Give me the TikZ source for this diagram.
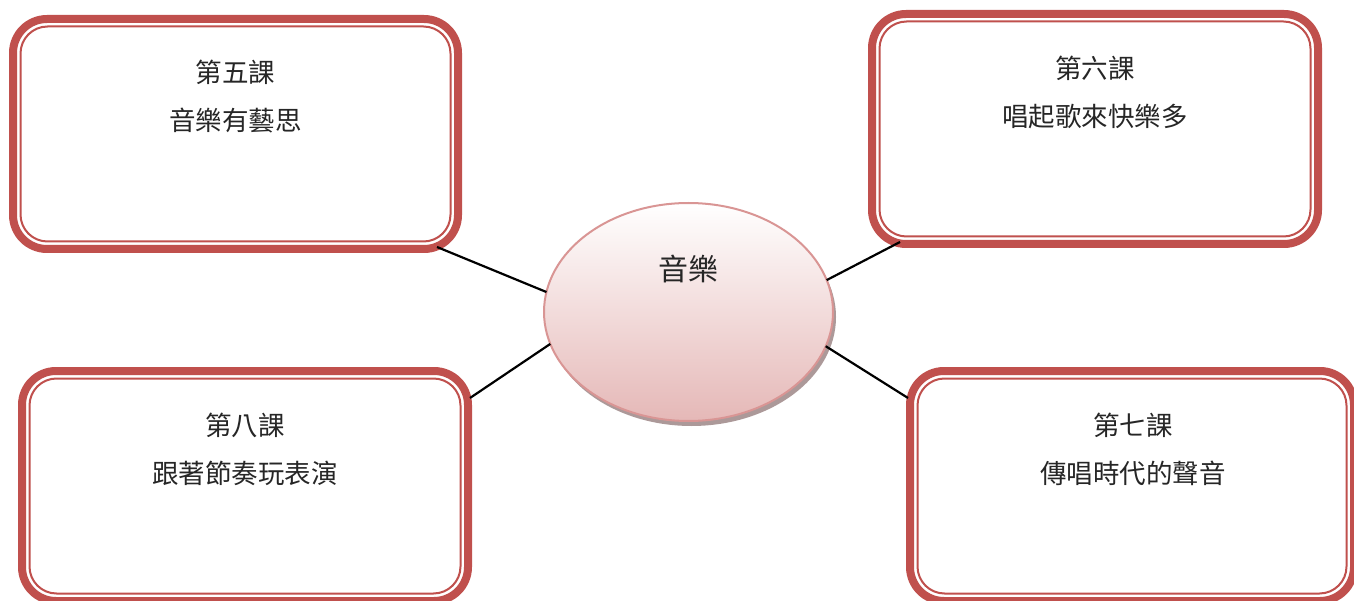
\documentclass[tikz,border=0pt]{standalone}
\usepackage{fontspec}
\newfontfamily\cjk{Noto Sans CJK TC}
\usetikzlibrary{shapes.geometric,shadows}
\definecolor{boxred}{HTML}{C0504D}
\definecolor{ellborder}{HTML}{D99594}
\definecolor{ellbottom}{HTML}{E5B8B7}
\begin{document}
\begin{tikzpicture}[x=1pt,y=-1pt,
  lessonbox/.style={rectangle, rounded corners=34pt, draw=boxred, line width=8pt,
    minimum height=230pt, inner sep=0pt, outer sep=0pt, fill=white},
  innerline/.style={draw=boxred, line width=2pt, rounded corners=27pt},
  link/.style={line width=2.2pt, draw=black},
  ttl/.style={font=\cjk\fontsize{26.5}{30}\selectfont, text=black!85, inner sep=0pt},
  bigttl/.style={font=\cjk\fontsize{30}{34}\selectfont, text=black!85, inner sep=0pt},
  hub/.style={ellipse, draw=ellborder, line width=2pt, minimum width=289pt, minimum height=218pt,
    top color=white, bottom color=ellbottom, outer sep=0pt,
    drop shadow={shadow xshift=3pt, shadow yshift=-5pt, fill=black!40!ellbottom, opacity=0.7}}
]
\useasboundingbox (0,0) rectangle (1354,601);

% boxes
\node[lessonbox, minimum width=445pt] (b1) at (235.5,134) {};
\node[lessonbox, minimum width=446pt] (b2) at (1095,129) {};
\node[lessonbox, minimum width=446pt] (b3) at (245,486) {};
\node[lessonbox, minimum width=444pt] (b4) at (1132,486) {};

\foreach \b in {b1,b2,b3,b4}{
  \draw[innerline] ([shift={(7.5pt,-7.5pt)}]\b.north west) rectangle ([shift={(-7.5pt,7.5pt)}]\b.south east);
}

% hub
\node[hub] (e) at (688.5,312) {};
\node[bigttl] (et) at (688,269) {音樂};

% texts
\node[ttl] (t1a) at ([yshift=-53pt]b1.north) {第五課};
\node[ttl] (t1b) at ([yshift=-102pt]b1.north) {音樂有藝思};
\node[ttl] (t2a) at ([yshift=-54pt]b2.north) {第六課};
\node[ttl] (t2b) at ([yshift=-102pt]b2.north) {唱起歌來快樂多};
\node[ttl] (t3a) at ([yshift=-54pt]b3.north) {第八課};
\node[ttl] (t3b) at ([yshift=-102pt]b3.north) {跟著節奏玩表演};
\node[ttl] (t4a) at ([shift={(1pt,-54pt)}]b4.north) {第七課};
\node[ttl] (t4b) at ([shift={(1pt,-102pt)}]b4.north) {傳唱時代的聲音};

% connectors
\draw[link] ([shift={(-21pt,2pt)}]b1.south east) -- (e.172);
\draw[link] ([shift={(28pt,2pt)}]b2.south west) -- (e.13);
\draw[link] ([shift={(2pt,-27pt)}]b3.north east) -- (e.193);
\draw[link] ([shift={(-2pt,-27pt)}]b4.north west) -- (e.346);
\end{tikzpicture}
\end{document}
